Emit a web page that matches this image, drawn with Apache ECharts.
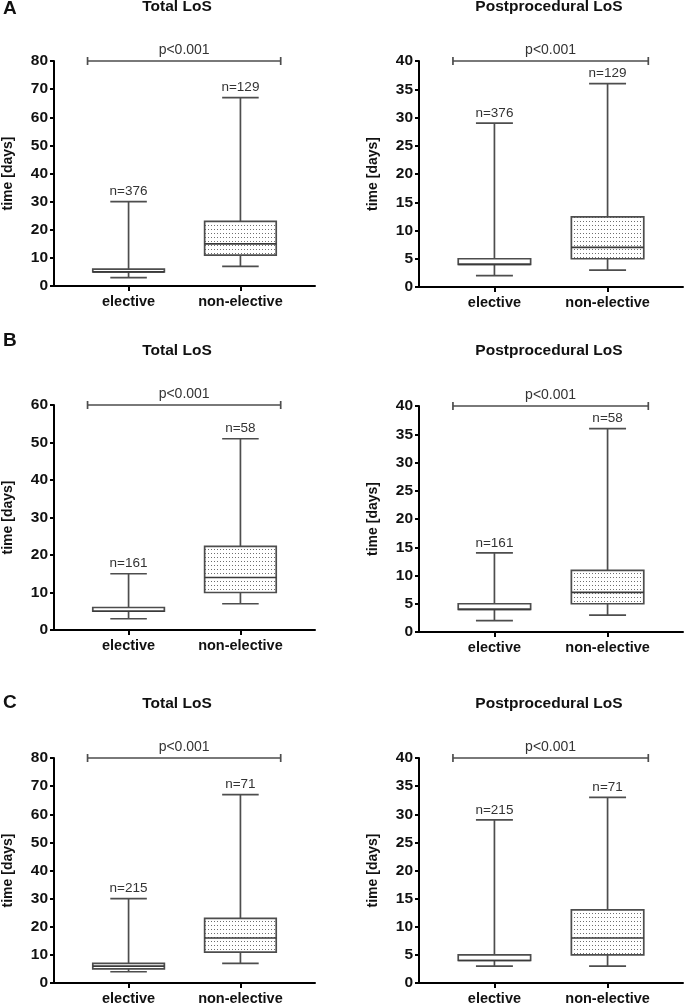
<!DOCTYPE html>
<html>
<head>
<meta charset="utf-8">
<script src="https://cdn.jsdelivr.net/npm/echarts@6/dist/echarts.min.js"></script>
<style>html,body{margin:0;padding:0;background:#fff;}#c{width:685px;height:1006px;}</style>
</head>
<body>
<div id="c"></div>
<script>
// ---- data ----
const categories = ['elective', 'non-elective'];
const catX = [1, 2.5];
// [min, Q1, median, Q3, max]
const totalA_elective = [3, 5, 5, 6, 30];
const totalA_nonelective = [7, 11, 15, 23, 67];
const postA_elective = [2, 4, 4, 5, 29];
const postA_nonelective = [3, 5, 7, 12.4, 36];
const totalB_elective = [3, 5, 5, 6, 15];
const totalB_nonelective = [7, 10, 14, 22.3, 51];
const postB_elective = [2, 4, 4, 5, 14];
const postB_nonelective = [3, 5, 7, 10.9, 36];
const totalC_elective = [4, 5, 6, 7, 30];
const totalC_nonelective = [7, 11, 16, 23, 67];
const postC_elective = [3, 4, 4, 5, 29];
const postC_nonelective = [3, 5, 8, 13, 33];
const nA = [376, 129];
const nB = [161, 58];
const nC = [215, 71];
const pText = 'p<0.001';
const bracketX = [0.45, 3.04];
const totalTicks80 = { max: 80, interval: 10 };
const totalTicks60 = { max: 60, interval: 10 };
const postTicks40 = { max: 40, interval: 5 };
const panelTitles = ['Total LoS', 'Postprocedural LoS'];
const panelLetters = ['A', 'B', 'C'];

const FONT = "'Liberation Sans', Arial, Helvetica, sans-serif";

const panels = [
  { title: panelTitles[0], boxes: [totalA_elective, totalA_nonelective], n: nA, ax: totalTicks80, grid: { left: 52, top: 61, width: 263, height: 225 } },
  { title: panelTitles[1], boxes: [postA_elective, postA_nonelective], n: nA, ax: postTicks40, grid: { left: 419, top: 61, width: 264, height: 226 } },
  { title: panelTitles[0], boxes: [totalB_elective, totalB_nonelective], n: nB, ax: totalTicks60, grid: { left: 52, top: 405, width: 263, height: 225 } },
  { title: panelTitles[1], boxes: [postB_elective, postB_nonelective], n: nB, ax: postTicks40, grid: { left: 419, top: 406, width: 264, height: 226 } },
  { title: panelTitles[0], boxes: [totalC_elective, totalC_nonelective], n: nC, ax: totalTicks80, grid: { left: 52, top: 758, width: 263, height: 225 } },
  { title: panelTitles[1], boxes: [postC_elective, postC_nonelective], n: nC, ax: postTicks40, grid: { left: 419, top: 758, width: 264, height: 226 } }
];
const titleY = [7, 7, 351, 351, 703.5, 703.5];
const titleX = [177, 549];
const letterY = [9, 341, 703];

// dotted pattern
const pat = document.createElement('canvas');
pat.width = 3; pat.height = 4;
const pctx = pat.getContext('2d');
pctx.fillStyle = '#ffffff'; pctx.fillRect(0, 0, 3, 4);
pctx.fillStyle = '#6e6e6e'; pctx.fillRect(1, 1, 1, 1);
const dotFill = { image: pat, repeat: 'repeat' };

const LINE = '#4d4d4d';

function boxRender(params, api) {
  const x = api.value(0);
  const mn = api.value(1), q1 = api.value(2), md = api.value(3), q3 = api.value(4), mx = api.value(5);
  const n = api.value(6), ci = api.value(7);
  const pMin = api.coord([x, mn]), pQ1 = api.coord([x, q1]), pMd = api.coord([x, md]);
  const pQ3 = api.coord([x, q3]), pMax = api.coord([x, mx]);
  const hb = api.size([0.48, 0])[0];
  const hc = api.size([0.245, 0])[0];
  const cx = pMin[0];
  const ls = { stroke: LINE, lineWidth: 1.7 };
  return {
    type: 'group',
    children: [
      { type: 'line', shape: { x1: cx, y1: pMin[1], x2: cx, y2: pMax[1] }, style: ls },
      { type: 'line', shape: { x1: cx - hc, y1: pMin[1], x2: cx + hc, y2: pMin[1] }, style: ls },
      { type: 'line', shape: { x1: cx - hc, y1: pMax[1], x2: cx + hc, y2: pMax[1] }, style: ls },
      { type: 'rect', shape: { x: cx - hb, y: pQ3[1], width: 2 * hb, height: pQ1[1] - pQ3[1] },
        style: { fill: ci === 1 ? dotFill : '#ffffff', stroke: LINE, lineWidth: 1.7 } },
      { type: 'line', shape: { x1: cx - hb, y1: pMd[1], x2: cx + hb, y2: pMd[1] }, style: { stroke: '#3a3a3a', lineWidth: 1.7 } },
      { type: 'text', style: { text: 'n=' + n, x: cx, y: pMax[1] - 3, align: 'center', verticalAlign: 'bottom',
        fontFamily: FONT, fontSize: 13.5, fill: '#333' } }
    ]
  };
}

function bracketRender(params, api) {
  const a = api.coord([api.value(0), api.value(2)]);
  const b = api.coord([api.value(1), api.value(2)]);
  const ls = { stroke: LINE, lineWidth: 1.7 };
  return {
    type: 'group',
    children: [
      { type: 'line', shape: { x1: a[0], y1: a[1], x2: b[0], y2: b[1] }, style: ls },
      { type: 'line', shape: { x1: a[0], y1: a[1] - 4, x2: a[0], y2: a[1] + 4 }, style: ls },
      { type: 'line', shape: { x1: b[0], y1: b[1] - 4, x2: b[0], y2: b[1] + 4 }, style: ls },
      { type: 'text', style: { text: pText, x: (a[0] + b[0]) / 2, y: a[1] - 4, align: 'center', verticalAlign: 'bottom',
        fontFamily: FONT, fontSize: 14, fill: '#333' } }
    ]
  };
}

const grid = [], xAxis = [], yAxis = [], series = [], graphic = [];
panels.forEach((p, i) => {
  grid.push(Object.assign({ containLabel: false }, p.grid));
  xAxis.push({
    type: 'value', gridIndex: i, min: 0, max: 3.5,
    splitLine: { show: false },
    axisLine: { show: true, lineStyle: { color: '#000', width: 2 } },
    axisTick: { show: true, length: 5, customValues: catX, lineStyle: { color: '#000', width: 2 } },
    axisLabel: { customValues: catX, margin: 8, formatter: v => categories[catX.indexOf(v)] || '',
      fontFamily: FONT, fontWeight: 'bold', fontSize: 14.5, color: '#111' }
  });
  yAxis.push({
    type: 'value', gridIndex: i, min: 0, max: p.ax.max, interval: p.ax.interval,
    splitLine: { show: false },
    axisLine: { show: true, lineStyle: { color: '#000', width: 2 } },
    axisTick: { show: true, length: 4, lineStyle: { color: '#000', width: 2 } },
    axisLabel: { margin: 6, fontFamily: FONT, fontWeight: 'bold', fontSize: 15.5, color: '#111' },
    name: 'time [days]', nameLocation: 'middle', nameGap: 39, nameRotate: 90,
    nameTextStyle: { fontFamily: FONT, fontWeight: 'bold', fontSize: 14, color: '#111' }
  });
  series.push({
    type: 'custom', xAxisIndex: i, yAxisIndex: i, clip: false, silent: true,
    renderItem: boxRender,
    encode: { x: 0, y: [1, 2, 3, 4, 5] },
    data: p.boxes.map((b, k) => [catX[k], b[0], b[1], b[2], b[3], b[4], p.n[k], k])
  });
  series.push({
    type: 'custom', xAxisIndex: i, yAxisIndex: i, clip: false, silent: true,
    renderItem: bracketRender,
    encode: { x: [0, 1], y: 2 },
    data: [[bracketX[0], bracketX[1], p.ax.max]]
  });
  graphic.push({ type: 'text', x: titleX[i % 2], y: titleY[i], silent: true,
    style: { text: p.title, align: 'center', verticalAlign: 'middle', fontFamily: FONT, fontWeight: 'bold', fontSize: 15.5, fill: '#111' } });
});
panelLetters.forEach((L, r) => {
  graphic.push({ type: 'text', x: 3, y: letterY[r], silent: true,
    style: { text: L, align: 'left', verticalAlign: 'middle', fontFamily: FONT, fontWeight: 'bold', fontSize: 19, fill: '#111' } });
});

const chart = echarts.init(document.getElementById('c'), null, { renderer: 'canvas' });
chart.setOption({ animation: false, backgroundColor: '#fff', grid, xAxis, yAxis, series, graphic });
</script>
</body>
</html>
